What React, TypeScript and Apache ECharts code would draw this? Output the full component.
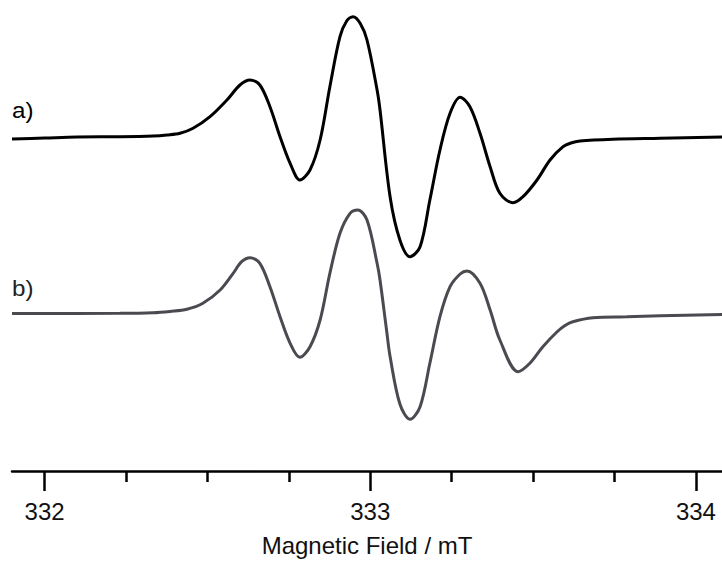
import React, { useEffect, useRef } from "react";
import * as echarts from "echarts";

// Trace a) experimental spectrum: field (mT) and intensity (arb. units, baseline = 0)
const fieldA = [
  331.9, 332.0, 332.1, 332.232, 332.333, 332.376, 332.416, 332.456, 332.508, 332.56, 332.6,
  332.631, 332.661, 332.692, 332.723, 332.754, 332.784, 332.815, 332.846, 332.876, 332.907,
  332.928, 332.947, 332.969, 332.99, 333.021, 333.03, 333.061, 333.091, 333.122, 333.153,
  333.183, 333.214, 333.245, 333.276, 333.306, 333.337, 333.368, 333.398, 333.438, 333.469,
  333.512, 333.552, 333.592, 333.616, 333.644, 333.745, 333.89, 334.08,
];
const intensityA = [
  -2, -1, 0, 0.3, 1, 2, 3.7, 8.7, 20.3, 37, 52,
  57, 52, 30.3, 0.3, -26.3, -43, -33, -3, 50.3, 100.3,
  116.3, 120.3, 113.7, 97, 47, 27, -60, -103, -119.7, -109.7,
  -63, -13, 23.7, 39.7, 30.3, 3.7, -29.7, -56.3, -65.7, -59.7,
  -43, -23, -9.7, -6, -4, -2.3, -1.3, 0,
];

// Trace b) simulated spectrum
const fieldB = [
  331.9, 332.232, 332.333, 332.385, 332.437, 332.486, 332.539, 332.579, 332.605, 332.631, 332.661,
  332.692, 332.723, 332.754, 332.784, 332.815, 332.846, 332.876, 332.907, 332.938, 332.962,
  332.99, 333.021, 333.03, 333.05, 333.061, 333.091, 333.122, 333.153, 333.183, 333.214,
  333.245, 333.276, 333.297, 333.337, 333.368, 333.398, 333.454, 333.49, 333.53, 333.573,
  333.598, 333.622, 333.684, 333.788, 333.89, 334.08,
];
const intensityB = [
  0.5, 0.7, 1.3, 2.6, 4.7, 10.7, 24, 40.7, 52.3, 56.3, 50.7,
  27.3, -2.7, -29.3, -43.3, -32.7, -6, 40.7, 80.7, 100.7, 104,
  94, 50.7, 34, -16, -42.7, -90, -105.3, -92.7, -49.3, -2.7,
  27.3, 40, 43, 30.7, 4, -26, -57.7, -49.3, -32.7, -18,
  -11.5, -7.7, -3.7, -2.7, -1.7, -0.5,
];

// vertical stacking offsets of the two traces
const offsetA = 334;
const offsetB = 157;

const majorTicks = [332, 333, 334];
const minorTicks = [332.25, 332.5, 332.75, 333.25, 333.5, 333.75];
const traceLabels = ["a)", "b)"];

const FONT = "'Liberation Sans', Arial, Helvetica, sans-serif";

export default function App() {
  const ref = useRef<HTMLDivElement>(null);
  useEffect(() => {
    if (!ref.current) return;
    const chart = echarts.init(ref.current, undefined, { renderer: "svg" });
    const dataA = fieldA.map((f, i) => [f, intensityA[i] + offsetA]);
    const dataB = fieldB.map((f, i) => [f, intensityB[i] + offsetB]);
    chart.setOption({
      animation: false,
      backgroundColor: "#ffffff",
      grid: { left: 12, right: 0, top: 0, bottom: 92, containLabel: false },
      xAxis: [
        {
          type: "value",
          min: 331.9,
          max: 334.08,
          position: "bottom",
          name: "Magnetic Field / mT",
          nameLocation: "middle",
          nameGap: 62,
          nameTextStyle: { fontFamily: FONT, fontSize: 24, color: "#111" },
          axisLine: { show: true, onZero: false, lineStyle: { color: "#000", width: 2.5 } },
          axisTick: {
            show: true,
            length: 20,
            customValues: majorTicks,
            lineStyle: { color: "#000", width: 2.5 },
          },
          axisLabel: {
            show: true,
            customValues: majorTicks,
            margin: 28,
            fontFamily: FONT,
            fontSize: 24,
            color: "#111",
            formatter: (v: number) => String(Math.round(v)),
          },
          splitLine: { show: false },
        },
        {
          type: "value",
          min: 331.9,
          max: 334.08,
          position: "bottom",
          axisLine: { show: false },
          axisTick: {
            show: true,
            length: 11,
            customValues: minorTicks,
            lineStyle: { color: "#000", width: 2.5 },
          },
          axisLabel: { show: false },
          splitLine: { show: false },
        },
      ],
      yAxis: {
        type: "value",
        min: 0,
        max: 471,
        show: false,
        splitLine: { show: false },
      },
      series: [
        {
          name: "a",
          type: "line",
          data: dataA,
          showSymbol: false,
          smooth: 0.33,
          lineStyle: { color: "#000000", width: 3 },
          clip: false,
        },
        {
          name: "b",
          type: "line",
          data: dataB,
          showSymbol: false,
          smooth: 0.33,
          lineStyle: { color: "#4a4a50", width: 3 },
          clip: false,
        },
      ],
      graphic: [
        {
          type: "text",
          left: 12,
          top: 99,
          scaleX: 1.1,
          style: { text: traceLabels[0], fontFamily: FONT, fontSize: 22, fill: "#000" },
        },
        {
          type: "text",
          left: 12,
          top: 277,
          scaleX: 1.1,
          style: { text: traceLabels[1], fontFamily: FONT, fontSize: 22, fill: "#222" },
        },
      ],
    });
    return () => chart.dispose();
  }, []);
  return <div ref={ref} style={{ width: 722, height: 563, position: "fixed", left: 0, top: 0 }} />;
}
